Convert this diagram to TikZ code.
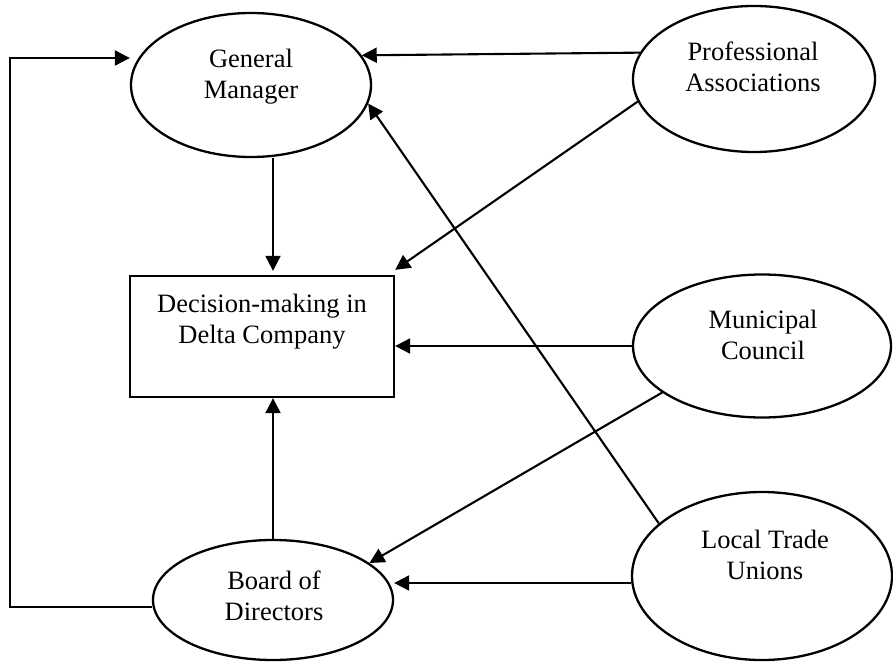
\documentclass[tikz,border=0pt]{standalone}
\usepackage{fontspec}
\setmainfont{Liberation Serif}
\usetikzlibrary{shapes.geometric,arrows.meta}
\begin{document}
\begin{tikzpicture}[x=1pt,y=-1pt,
  actor/.style={draw, ellipse, line width=2.3pt, inner sep=0pt},
  focus/.style={draw, rectangle, line width=2.3pt, inner sep=0pt},
  lbl/.style={inner sep=0pt, align=center, font=\fontsize{26.5}{31}\selectfont},
  arr/.style={line width=2.1pt, -{Triangle[length=15pt,width=15pt]}}]
\useasboundingbox (0,0) rectangle (893,663);

% stakeholders (ellipses) and the central box
\node[actor, minimum width=240pt, minimum height=144pt] (gm)   at (251,85)  {};
\node[actor, minimum width=242pt, minimum height=146pt] (prof) at (754,79)  {};
\node[actor, minimum width=258pt, minimum height=143pt] (muni) at (762,346) {};
\node[actor, minimum width=260pt, minimum height=168pt] (tu)   at (762,576) {};
\node[actor, minimum width=240pt, minimum height=120pt] (bod)  at (273,600) {};
\node[focus, minimum width=264pt, minimum height=121pt] (dec)  at (262,336.5) {};

% labels
\node[lbl] (gm-t)   at (251,76.5)  {General\\Manager};
\node[lbl] (prof-t) at (753,66.5)  {Professional\\Associations};
\node[lbl] (muni-t) at (763,334.5) {Municipal\\Council};
\node[lbl] (tu-t)   at (765,555)   {Local Trade\\Unions};
\node[lbl] (bod-t)  at (274,596)   {Board of\\Directors};
\node[lbl] (dec-t)  at (262,321.5) {Decision-making in\\Delta Company};

% influences
\draw[arr] (prof.167) -- (gm.15);
\draw[arr] (prof.191) -- ([yshift=5pt]dec.north east);
\draw[arr] (gm.south -| bod.north) -- ([yshift=4pt]dec.north -| bod.north);
\draw[arr] (bod.north) -- (dec.south -| bod.north);
\draw[arr] (muni.west) -- (muni.west -| dec.east);
\draw[arr] (muni.205) -- (bod.21);
\draw[arr] (tu.153) -- (gm.351);
\draw[arr] ([yshift=-7pt]tu.west) -- ([yshift=-7pt]tu.west -| bod.east);

% feedback from the board to the general manager
\coordinate (fb) at (10,330);
\draw[arr] ([yshift=-7pt]bod.west) -| (fb) |- ([yshift=27pt]gm.west);
\end{tikzpicture}
\end{document}
